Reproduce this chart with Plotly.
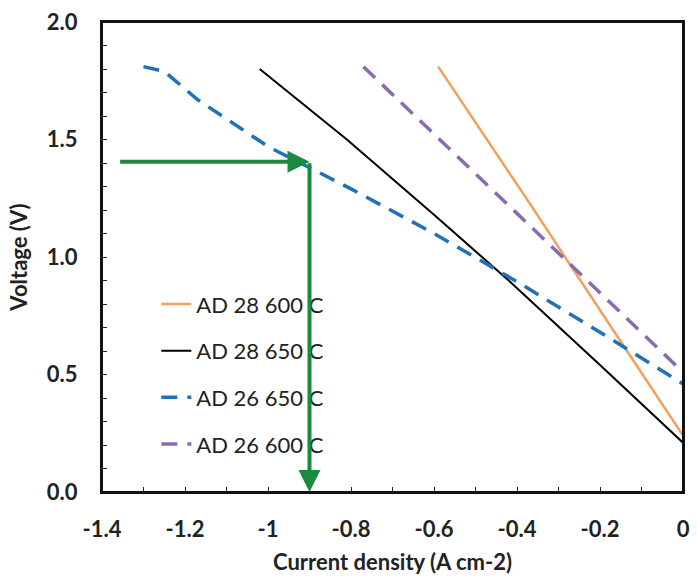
import plotly.graph_objects as go

# ---- data ----
ad28_600_x = [-0.59, -0.37, -0.18, 0.0]
ad28_600_y = [1.81, 1.23, 0.72, 0.24]

ad28_650_x = [-1.02, -0.81, -0.60, -0.42, -0.20, 0.0]
ad28_650_y = [1.80, 1.50, 1.18, 0.90, 0.54, 0.21]

ad26_650_x = [-1.30, -1.25, -1.17, -1.00, -0.80, -0.60, -0.40, -0.20, 0.0]
ad26_650_y = [1.81, 1.79, 1.67, 1.47, 1.29, 1.10, 0.895, 0.68, 0.46]

ad26_600_x = [-0.77, -0.55, -0.37, -0.18, 0.0]
ad26_600_y = [1.81, 1.44, 1.135, 0.815, 0.51]

series_names = ["AD 28 600 C", "AD 28 650 C", "AD 26 650 C", "AD 26 600 C"]

# green guide arrows (data coordinates)
arrow_h_from = (-1.36, 1.405)
arrow_corner = (-0.90, 1.405)
arrow_v_to = (-0.90, 0.0)

x_tickvals = [-1.4, -1.2, -1.0, -0.8, -0.6, -0.4, -0.2, 0.0]
x_ticktext = ["-1.4", "-1.2", "-1", "-0.8", "-0.6", "-0.4", "-0.2", "0"]
y_tickvals = [0.0, 0.5, 1.0, 1.5, 2.0]
y_ticktext = ["0.0", "0.5", "1.0", "1.5", "2.0"]

FONT = "Lato"
GREEN = "#1b8a3e"
TXT = "#222222"
FRAME = "#111111"

fig = go.Figure()
styles = [
    dict(color="#f5a05a", width=2.5, dash="solid"),
    dict(color="#000000", width=2, dash="solid"),
    dict(color="#1f71b8", width=3.5, dash="16px,10px"),
    dict(color="#8a6bb0", width=3.5, dash="16px,10px"),
]
data = [(ad28_600_x, ad28_600_y), (ad28_650_x, ad28_650_y),
        (ad26_650_x, ad26_650_y), (ad26_600_x, ad26_600_y)]
for i, ((xs, ys), name, st) in enumerate(zip(data, series_names, styles)):
    fig.add_trace(go.Scatter(x=xs, y=ys, mode="lines", name=name,
                             line=st, legendgroup=f"g{i}"))

fig.add_annotation(x=arrow_corner[0], y=arrow_corner[1],
                   ax=arrow_h_from[0], ay=arrow_h_from[1],
                   xref="x", yref="y", axref="x", ayref="y",
                   showarrow=True, arrowhead=2, arrowsize=1.1,
                   arrowwidth=4, arrowcolor=GREEN, standoff=0, text="")
fig.add_annotation(x=arrow_v_to[0], y=arrow_v_to[1],
                   ax=arrow_corner[0], ay=arrow_corner[1],
                   xref="x", yref="y", axref="x", ayref="y",
                   showarrow=True, arrowhead=2, arrowsize=1.1,
                   arrowwidth=4, arrowcolor=GREEN, standoff=0, text="")

# plot frame
fig.add_shape(type="rect", xref="paper", yref="paper", x0=0, y0=0, x1=1, y1=1,
              line=dict(color=FRAME, width=2), layer="above")

axis_common = dict(
    showline=True, linecolor=FRAME, linewidth=2, mirror=True,
    showgrid=False, zeroline=False, ticks="inside", ticklen=5,
    tickcolor=TXT, tickwidth=1,
    tickfont=dict(family=FONT, size=22, color=TXT, weight="bold"),
)
fig.update_layout(
    width=698, height=583,
    margin=dict(l=102, r=8, t=17, b=91),
    paper_bgcolor="white", plot_bgcolor="white",
    font=dict(family=FONT, color=TXT),
    xaxis=dict(range=[-1.4, 0], tickvals=x_tickvals, ticktext=x_ticktext,
               minor=dict(dtick=0.1, tick0=0, ticks="inside", ticklen=5,
                          tickcolor=TXT),
               ticklabelstandoff=17,
               title=dict(text="Current density (A cm-2)", standoff=13,
                          font=dict(family=FONT, size=22, weight="bold",
                                    color=TXT)),
               **axis_common),
    yaxis=dict(range=[0, 2], tickvals=y_tickvals, ticktext=y_ticktext,
               minor=dict(dtick=0.1, tick0=0, ticks="inside", ticklen=5,
                          tickcolor=TXT),
               ticklabelstandoff=18,
               title=dict(text="Voltage (V)", standoff=13,
                          font=dict(family=FONT, size=22, weight="bold",
                                    color=TXT)),
               **axis_common),
    legend=dict(x=0.0935, y=0.444, xanchor="left", yanchor="top",
                bgcolor="rgba(0,0,0,0)", tracegroupgap=15,
                font=dict(family=FONT, size=22, color=TXT)),
    showlegend=True,
)

fig.write_html(
    "out.html",
    config={"displayModeBar": False},
    post_script="document.body.style.margin='0';"
                "document.body.style.overflow='hidden';",
)
